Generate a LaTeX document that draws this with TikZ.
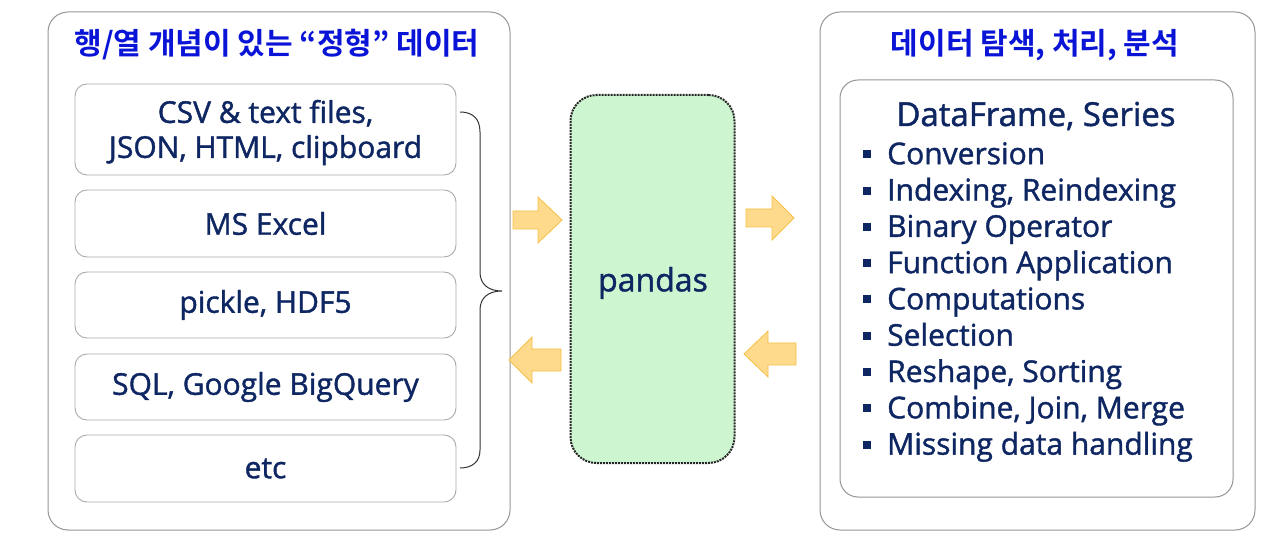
\documentclass[tikz,border=0pt]{standalone}
\usepackage{fontspec}
\setmainfont{Open Sans}[FakeBold=1.3]
\newfontfamily\kr{Noto Sans CJK KR Bold}
\usetikzlibrary{calc}
\definecolor{navy}{RGB}{14,38,98}
\definecolor{ttlblue}{RGB}{10,20,215}
\definecolor{boxgray}{RGB}{150,150,150}
\definecolor{pgreen}{RGB}{204,245,208}
\definecolor{arrfill}{RGB}{253,218,140}
\definecolor{arrdraw}{RGB}{246,192,72}
\tikzset{
  outerbox/.style={draw=boxgray, line width=1pt, rounded corners=20pt, fill=white},
  itembox/.style={draw=boxgray!80, line width=0.9pt, rounded corners=12pt, minimum width=381pt, text=navy, font=\fontsize{30}{35}\selectfont, align=center},
  ttl/.style={text=ttlblue, font=\kr\fontsize{30}{34}\selectfont},
  fat/.style={fill=arrfill, draw=arrdraw, line width=0.8pt, line join=miter},
}
\newcommand{\sqbul}{\makebox[24pt][l]{\rule[0.2em]{8pt}{8pt}}}
\begin{document}
\begin{tikzpicture}[x=1pt,y=-1pt]
\useasboundingbox (0,0) rectangle (1280,545);
% left panel
\draw[outerbox] (48,12) rectangle (510,530);
\node[ttl] (lt) at (277,45) {행/열 개념이 있는 “정형” 데이터};
\node[itembox, minimum height=91pt] (b1) at (265.5,129.5) {};
\node[text=navy, font=\fontsize{30}{35}\selectfont, align=center] (b1t) at (265.5,132.5) {CSV \& text files,\\JSON, HTML, clipboard};
\node[itembox, minimum height=67pt] (b2) at (265.5,223.5) {MS Excel};
\node[itembox, minimum height=66pt] (b3) at (265.5,305) {pickle, HDF5};
\node[itembox, minimum height=66pt] (b4) at (265.5,387) {SQL, Google BigQuery};
\node[itembox, minimum height=67pt] (b5) at (265.5,468.5) {etc};
% brace
\coordinate (bt) at (460,112);
\coordinate (bb) at (460,468);
\coordinate (btip) at (502,291);
\draw[line width=1pt, black!80] (bt) .. controls (472,112) and (480,118) .. (480,132)
  -- (480,272) .. controls (480,284) and (488,291) .. (btip)
  .. controls (488,291) and (480,298) .. (480,310)
  -- (480,450) .. controls (480,462) and (472,468) .. (bb);
% pandas
\node[draw=black!85, densely dotted, line width=2pt, rounded corners=26pt, fill=pgreen,
      minimum width=164pt, minimum height=368pt] (pd) at (652.5,279) {};
\node[text=navy, font=\fontsize{32}{36}\selectfont] (pdt) at (653,283) {pandas};
% arrows
\draw[fat] (513,211) -- (538,211) -- (538,197) -- (562,220) -- (538,243) -- (538,229) -- (513,229) -- cycle;
\draw[fat] (561,349) -- (532,349) -- (532,337) -- (509,360) -- (532,383) -- (532,371) -- (561,371) -- cycle;
\draw[fat] (746,209) -- (772,209) -- (772,196) -- (794,218) -- (772,240) -- (772,227) -- (746,227) -- cycle;
\draw[fat] (796,343) -- (768,343) -- (768,331) -- (744,354) -- (768,377) -- (768,365) -- (796,365) -- cycle;
% right panel
\draw[outerbox] (820,12) rectangle (1255,530);
\node[ttl] (rt) at (1035,45) {데이터 탐색, 처리, 분석};
\draw[outerbox, rounded corners=18pt] (840,80) rectangle (1233,497);
\node[text=navy, font=\fontsize{33}{38}\selectfont] (df) at (1036,116) {DataFrame, Series};
\node[text=navy, anchor=north west, align=left, inner sep=0pt,
      font=\fontsize{30}{36.3}\selectfont] (lst) at (863,142) {%
\sqbul Conversion\\
\sqbul Indexing, Reindexing\\
\sqbul Binary Operator\\
\sqbul Function Application\\
\sqbul Computations\\
\sqbul Selection\\
\sqbul Reshape, Sorting\\
\sqbul Combine, Join, Merge\\
\sqbul Missing data handling};
\end{tikzpicture}
\end{document}
